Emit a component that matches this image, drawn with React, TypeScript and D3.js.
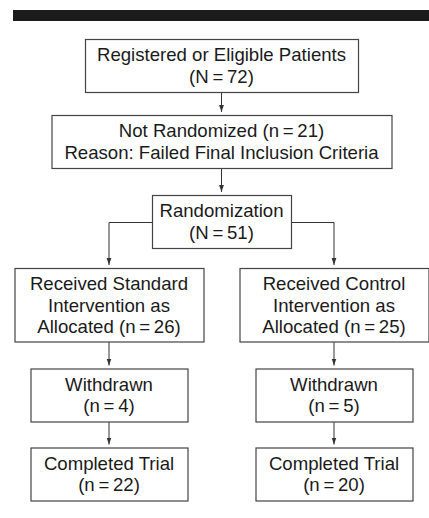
import React from "react";
import * as d3 from "d3";

// flow nodes: label lines ("|" splits lines, {n} is the count)
const nodeLabels = [
	"Registered or Eligible Patients|(N={n})",
	"Not Randomized (n={n})|Reason: Failed Final Inclusion Criteria",
	"Randomization|(N={n})",
	"Received Standard|Intervention as|Allocated (n={n})",
	"Received Control|Intervention as|Allocated (n={n})",
	"Withdrawn|(n={n})",
	"Withdrawn|(n={n})",
	"Completed Trial|(n={n})",
	"Completed Trial|(n={n})",
];
const nodeCounts = [72, 21, 51, 26, 25, 4, 5, 22, 20];
const nodeRows = [0, 1, 2, 3, 3, 4, 4, 5, 5];
const nodeColumns = ["center", "center", "center", "left", "right", "left", "right", "left", "right"];
const links: [number, number][] = [
	[0, 1],
	[1, 2],
	[2, 3],
	[2, 4],
	[3, 5],
	[4, 6],
	[5, 7],
	[6, 8],
];

const width = 429;
const height = 518;
const rowWidths = [273, 340, 139, 189, 157, 157];
const rowGaps = [23, 27, 20, 27, 26];
const lineHeight = 21.5;
const firstTop = 39;
const font = "'Liberation Sans', Arial, Helvetica, sans-serif";

const App = () => {
	const xCol = d3.scalePoint<string>().domain(["left", "center", "right"]).range([109, 334]);

	const lines = nodeLabels.map((l, i) =>
		l.replace("={n}", `\u2009=\u2009${nodeCounts[i]}`).split("|")
	);

	const rowCount = d3.max(nodeRows)! + 1;
	const rowLines = d3.range(rowCount).map(
		(r) => d3.max(lines.filter((_, i) => nodeRows[i] === r), (d) => d.length)!
	);
	const rowHeights = rowLines.map((n) => n * 20.5 + 12);
	const rowTops = rowHeights.map(
		(_, r) => firstTop + d3.sum(rowHeights.slice(0, r)) + d3.sum(rowGaps.slice(0, r))
	);

	const nodes = lines.map((ls, i) => {
		const r = nodeRows[i];
		const cx = xCol(nodeColumns[i])!;
		const w = rowWidths[r];
		return { lines: ls, x: cx - w / 2, y: rowTops[r], w, h: rowHeights[r], cx };
	});

	const tipGap = 3;
	const linkPath = ([s, t]: [number, number]) => {
		const a = nodes[s];
		const b = nodes[t];
		if (Math.abs(a.cx - b.cx) < 1) {
			return d3.line()([
				[a.cx, a.y + a.h],
				[b.cx, b.y - tipGap],
			])!;
		}
		// branch out of the side of the box, then down
		const sideX = b.cx < a.cx ? a.x : a.x + a.w;
		const midY = a.y + a.h / 2 + 1;
		return d3.line()([
			[sideX, midY],
			[b.cx, midY],
			[b.cx, b.y - tipGap],
		])!;
	};

	return (
		<svg
			width={width}
			height={height}
			style={{ position: "absolute", left: 0, top: 0, background: "#fff" }}
		>
			<defs>
				<marker
					id="arrow"
					viewBox="0 -4 8 8"
					refX={7}
					refY={0}
					markerWidth={8}
					markerHeight={8}
					markerUnits="userSpaceOnUse"
					orient="auto"
				>
					<path d="M0,-2.4L7,0L0,2.4Z" fill="#333" />
				</marker>
			</defs>
			<rect x={13} y={10} width={width - 13} height={11} fill="#1b1b1b" />
			<g fill="none" stroke="#333" strokeWidth={1}>
				{links.map((l, i) => (
					<path key={i} d={linkPath(l)} markerEnd="url(#arrow)" />
				))}
			</g>
			{nodes.map((n, i) => (
				<g key={i}>
					<rect
						x={n.x + 0.5}
						y={n.y + 0.5}
						width={n.w}
						height={n.h}
						fill="#fff"
						stroke="#444"
						strokeWidth={1.2}
					/>
					<text
						textAnchor="middle"
						fontFamily={font}
						fontSize={18.6}
						fill="#1a1a1a"
					>
						{n.lines.map((t, j) => (
							<tspan key={j} x={n.cx} y={n.y + 22 + j * lineHeight}>
								{t}
							</tspan>
						))}
					</text>
				</g>
			))}
		</svg>
	);
};

export default App;
